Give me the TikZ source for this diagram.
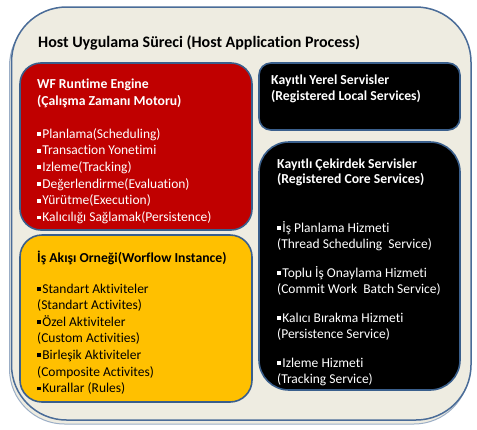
\documentclass[tikz,border=0pt]{standalone}
\usepackage{fontspec}
\setmainfont{Carlito}[Ligatures={NoCommon}]
\definecolor{outerfill}{HTML}{EEECE1}
\definecolor{outerline}{HTML}{4A6C98}
\definecolor{boxline}{HTML}{3A5F8C}
\definecolor{wfred}{HTML}{C00000}
\definecolor{wfyellow}{HTML}{FFC000}
\newcommand\bul{\rule[2.2pt]{3.8pt}{3.8pt}\hspace{1.4pt}}
\begin{document}
\begin{tikzpicture}[x=1pt,y=-1pt,
  outerbox/.style={fill=outerfill,draw=outerline,line width=1.5pt,rounded corners=55pt},
  outershadow/.style={fill=outerfill,draw=outerline!55,line width=1pt,rounded corners=55pt},
  innerbox/.style={draw=boxline,line width=1.6pt},
  txt/.style={anchor=base west,inner sep=0pt,font=\fontsize{13.5}{16}\selectfont},
  ttl/.style={txt,font=\fontsize{13.7}{16}\selectfont\bfseries},
  bigttl/.style={txt,font=\fontsize{16}{19}\selectfont\bfseries},
  wt/.style={text=white}]
\useasboundingbox (0,0) rectangle (477,429);
% outer container
\path[outershadow] (9.5,11) rectangle (469,424);
\path[outerbox] (11.5,7) rectangle (471,420);
% inner boxes
\path[innerbox,fill=wfred,rounded corners=21pt] (20,63) rectangle (252,230);
\path[innerbox,fill=wfyellow,rounded corners=22pt] (20,235) rectangle (252,402);
\path[innerbox,fill=black,rounded corners=12pt] (259,63) rectangle (460,130);
\path[innerbox,fill=black,rounded corners=30pt] (259,142) rectangle (460,390);
% title
\node[bigttl] (title) at (38,47.5) {Host Uygulama Süreci (Host Application Process)};
% red box
\node[ttl,wt] (r1) at (37,88) {WF Runtime Engine};
\node[ttl,wt] (r2) at (37,105) {(Çalışma Zamanı Motoru)};
\node[txt,wt] (r3) at (37,138) {\bul Planlama(Scheduling)};
\node[txt,wt] (r4) at (37,154.7) {\bul Transaction Yonetimi};
\node[txt,wt] (r5) at (37,171.4) {\bul Izleme(Tracking)};
\node[txt,wt] (r6) at (37,188.1) {\bul Değerlendirme(Evaluation)};
\node[txt,wt] (r7) at (37,204.8) {\bul Yürütme(Execution)};
\node[txt,wt] (r8) at (37,221.5) {\bul Kalıcılığı Sağlamak(Persistence)};
% yellow box
\node[ttl] (y1) at (37,262) {İş Akışı Orneği(Worflow Instance)};
\node[txt] (y2) at (37,293) {\bul Standart Aktiviteler};
\node[txt] (y3) at (37,309.6) {(Standart Activites)};
\node[txt] (y4) at (37,326.2) {\bul Özel Aktiviteler};
\node[txt] (y5) at (37,342.8) {(Custom Activities)};
\node[txt] (y6) at (37,359.4) {\bul Birleşik Aktiviteler};
\node[txt] (y7) at (37,376) {(Composite Activites)};
\node[txt] (y8) at (37,392.6) {\bul Kurallar (Rules)};
% black top
\node[ttl,wt] (b1) at (271,84) {Kayıtlı Yerel Servisler};
\node[ttl,wt] (b2) at (271,100) {(Registered Local Services)};
% black bottom
\node[ttl,wt] (c1) at (277,168) {Kayıtlı Çekirdek Servisler};
\node[ttl,wt] (c2) at (277,183.5) {(Registered Core Services)};
\node[txt,wt] (c3) at (277,232) {\bul İş Planlama Hizmeti};
\node[txt,wt] (c4) at (277,248) {(Thread Scheduling\ \ Service)};
\node[txt,wt] (c5) at (277,277) {\bul Toplu İş Onaylama Hizmeti};
\node[txt,wt] (c6) at (277,293) {(Commit Work\ \ Batch Service)};
\node[txt,wt] (c7) at (277,322) {\bul Kalıcı Bırakma Hizmeti};
\node[txt,wt] (c8) at (277,338) {(Persistence Service)};
\node[txt,wt] (c9) at (277,367) {\bul Izleme Hizmeti};
\node[txt,wt] (c10) at (277,383) {(Tracking Service)};
\end{tikzpicture}
\end{document}
